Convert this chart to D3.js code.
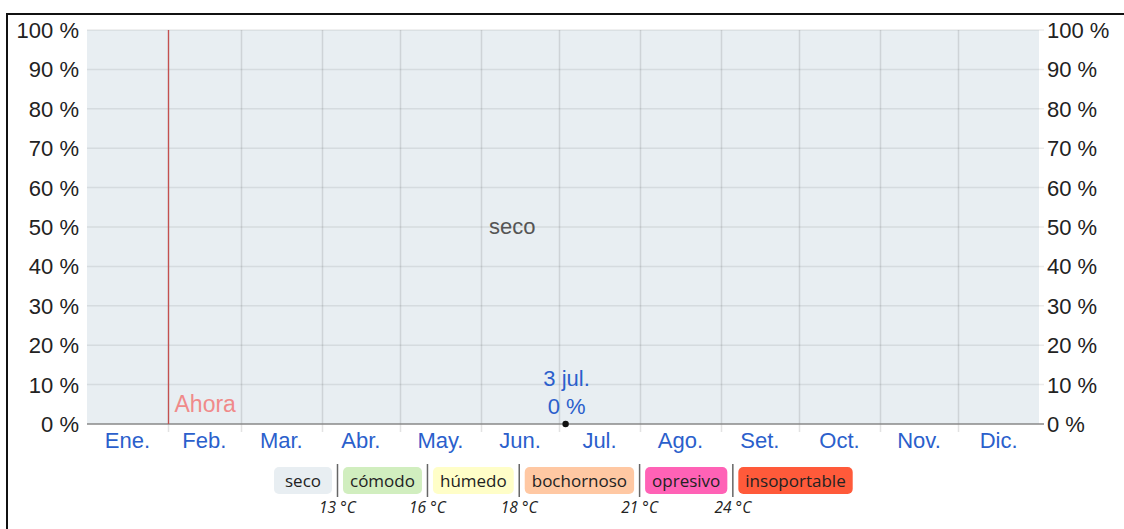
<!DOCTYPE html>
<html>
<head>
<meta charset="utf-8">
<script src="https://cdn.jsdelivr.net/npm/d3@7"></script>
<style>
  html, body { margin: 0; padding: 0; background: #fff; }
  svg { display: block; }
</style>
</head>
<body>
<svg id="chart" width="1124" height="529"></svg>
<script>
// Monthly axis labels
const months = ["Ene.", "Feb.", "Mar.", "Abr.", "May.", "Jun.", "Jul.", "Ago.", "Set.", "Oct.", "Nov.", "Dic."];
const monthDays = [31, 28, 31, 30, 31, 30, 31, 31, 30, 31, 30, 31];

// Share of time (%) in each comfort level, sampled at the start of each month (and year end)
const dayOfYear = [0, 31, 59, 90, 120, 151, 181, 212, 243, 273, 304, 334, 365];
const comodo      = [0, 0, 0, 0, 0, 0, 0, 0, 0, 0, 0, 0, 0];
const humedo      = [0, 0, 0, 0, 0, 0, 0, 0, 0, 0, 0, 0, 0];
const bochornoso  = [0, 0, 0, 0, 0, 0, 0, 0, 0, 0, 0, 0, 0];
const opresivo    = [0, 0, 0, 0, 0, 0, 0, 0, 0, 0, 0, 0, 0];
const insoportable = [0, 0, 0, 0, 0, 0, 0, 0, 0, 0, 0, 0, 0];

// Y axis ticks
const yTicks = [0, 10, 20, 30, 40, 50, 60, 70, 80, 90, 100];

// Highlighted point: 3 jul.
const peakDay = 183.5;
const peakValue = 0;
const peakLabel = "3 jul.";

// "Now" marker (day of year)
const nowDay = 31;

// Legend
const legendNames = ["seco", "cómodo", "húmedo", "bochornoso", "opresivo", "insoportable"];
const legendColors = ["#e8eef2", "#d1eebf", "#fffec8", "#ffc8a3", "#ff62b6", "#ff5a3a"];
const legendTemps = ["13 °C", "16 °C", "18 °C", "21 °C", "24 °C"];

const svg = d3.select("#chart");

// page frame
svg.append("path")
  .attr("d", "M7,1200 L7,14 L1200,14")
  .attr("fill", "none").attr("stroke", "#111").attr("stroke-width", 2);

const plot = { left: 87, right: 1039, top: 30, bottom: 424 };

const x = d3.scaleLinear().domain([0, 365]).range([plot.left, plot.right]);
const y = d3.scaleLinear().domain([0, 100]).range([plot.bottom, plot.top]);

// stacked comfort bands; "seco" fills the remainder to 100 %
const rows = dayOfYear.map((d, i) => ({
  day: d,
  insoportable: insoportable[i],
  opresivo: opresivo[i],
  bochornoso: bochornoso[i],
  humedo: humedo[i],
  comodo: comodo[i],
  seco: 100 - (insoportable[i] + opresivo[i] + bochornoso[i] + humedo[i] + comodo[i])
}));
const keys = ["insoportable", "opresivo", "bochornoso", "humedo", "comodo", "seco"];
const keyColor = {
  seco: legendColors[0], comodo: legendColors[1], humedo: legendColors[2],
  bochornoso: legendColors[3], opresivo: legendColors[4], insoportable: legendColors[5]
};
const stack = d3.stack().keys(keys)(rows);
const area = d3.area()
  .x(d => x(d.data.day))
  .y0(d => y(d[0]))
  .y1(d => y(d[1]));

svg.append("g").selectAll("path")
  .data(stack)
  .join("path")
  .attr("d", area)
  .attr("fill", d => keyColor[d.key]);

// horizontal gridlines (extend slightly right as ticks)
svg.append("g").selectAll("line")
  .data(yTicks.filter(t => t > 0))
  .join("line")
  .attr("x1", plot.left).attr("x2", plot.right + 5)
  .attr("y1", d => y(d)).attr("y2", d => y(d))
  .attr("stroke", "#000").attr("stroke-opacity", 0.08).attr("stroke-width", 1.5);

// vertical month boundaries
const boundaries = d3.cumsum(monthDays).slice(0, 11);
svg.append("g").selectAll("line")
  .data(boundaries)
  .join("line")
  .attr("x1", d => Math.round(x(d)) + 0.5).attr("x2", d => Math.round(x(d)) + 0.5)
  .attr("y1", plot.top).attr("y2", plot.bottom + 8)
  .attr("stroke", "#000").attr("stroke-opacity", 0.11).attr("stroke-width", 1.5);

// baseline
svg.append("line")
  .attr("x1", plot.left).attr("x2", plot.right + 5)
  .attr("y1", y(0)).attr("y2", y(0))
  .attr("stroke", "#888").attr("stroke-width", 1.5);

// y labels both sides
const yLab = svg.append("g")
  .attr("font-family", "Liberation Sans, Arial, sans-serif")
  .attr("font-size", 22).attr("fill", "#222");
yLab.selectAll("text.l")
  .data(yTicks).join("text").attr("class", "l")
  .attr("x", 79).attr("y", d => y(d) + 8)
  .attr("text-anchor", "end")
  .text(d => d + " %");
yLab.selectAll("text.r")
  .data(yTicks).join("text").attr("class", "r")
  .attr("x", 1047).attr("y", d => y(d) + 8)
  .attr("text-anchor", "start")
  .text(d => d + " %");

// month labels centered in each month
const monthStarts = [0, ...boundaries];
svg.append("g")
  .attr("font-family", "Liberation Sans, Arial, sans-serif")
  .attr("font-size", 22).attr("fill", "#2b5fcc")
  .selectAll("text")
  .data(months).join("text")
  .attr("x", (d, i) => x(monthStarts[i] + monthDays[i] / 2))
  .attr("y", 448)
  .attr("text-anchor", "middle")
  .text(d => d);

// band label
svg.append("text")
  .attr("x", x(163)).attr("y", y(50) + 7)
  .attr("text-anchor", "middle")
  .attr("font-family", "Liberation Sans, Arial, sans-serif")
  .attr("font-size", 22).attr("fill", "#555")
  .text("seco");

// "now" marker
const nowX = Math.round(x(nowDay)) + 0.5;
svg.append("line")
  .attr("x1", nowX).attr("x2", nowX)
  .attr("y1", plot.top).attr("y2", plot.bottom)
  .attr("stroke", "#c4504f").attr("stroke-width", 1.3);
svg.append("text")
  .attr("x", nowX + 6).attr("y", plot.bottom - 12)
  .attr("font-family", "Liberation Sans, Arial, sans-serif")
  .attr("font-size", 23).attr("fill", "#f08a8a")
  .text("Ahora");

// highlighted point with label
svg.append("circle")
  .attr("cx", x(peakDay)).attr("cy", y(peakValue))
  .attr("r", 3.2).attr("fill", "#111");
const pl = svg.append("g")
  .attr("font-family", "Liberation Sans, Arial, sans-serif")
  .attr("font-size", 22).attr("fill", "#2b5fcc")
  .attr("text-anchor", "middle");
pl.append("text").attr("x", x(peakDay) + 1).attr("y", y(peakValue) - 38).text(peakLabel);
pl.append("text").attr("x", x(peakDay) + 1).attr("y", y(peakValue) - 10).text(peakValue + " %");

// legend
const lg = svg.append("g")
  .attr("font-family", "Open Sans, Noto Sans, sans-serif")
  .attr("font-size", 17);
let cx = 274;
const boxTop = 467, boxH = 27;
legendNames.forEach((name, i) => {
  const t = lg.append("text")
    .attr("y", boxTop + 20)
    .attr("fill", "#222")
    .text(name);
  const w = t.node().getComputedTextLength();
  const bw = Math.max(58, w + 14);
  lg.insert("rect", "text")
    .attr("x", cx).attr("y", boxTop)
    .attr("width", bw).attr("height", boxH)
    .attr("rx", 5).attr("fill", legendColors[i]);
  t.attr("x", cx + bw / 2).attr("text-anchor", "middle");
  cx += bw;
  if (i < legendNames.length - 1) {
    const dx = cx + 5.5;
    lg.append("line")
      .attr("x1", dx).attr("x2", dx)
      .attr("y1", boxTop - 3).attr("y2", boxTop + boxH + 3)
      .attr("stroke", "#666").attr("stroke-width", 1.5);
    lg.append("text")
      .attr("x", dx).attr("y", 513)
      .attr("text-anchor", "middle")
      .attr("font-size", 15.5).attr("font-style", "italic")
      .attr("fill", "#222")
      .text(legendTemps[i]);
    cx += 11;
  }
});
</script>
</body>
</html>
